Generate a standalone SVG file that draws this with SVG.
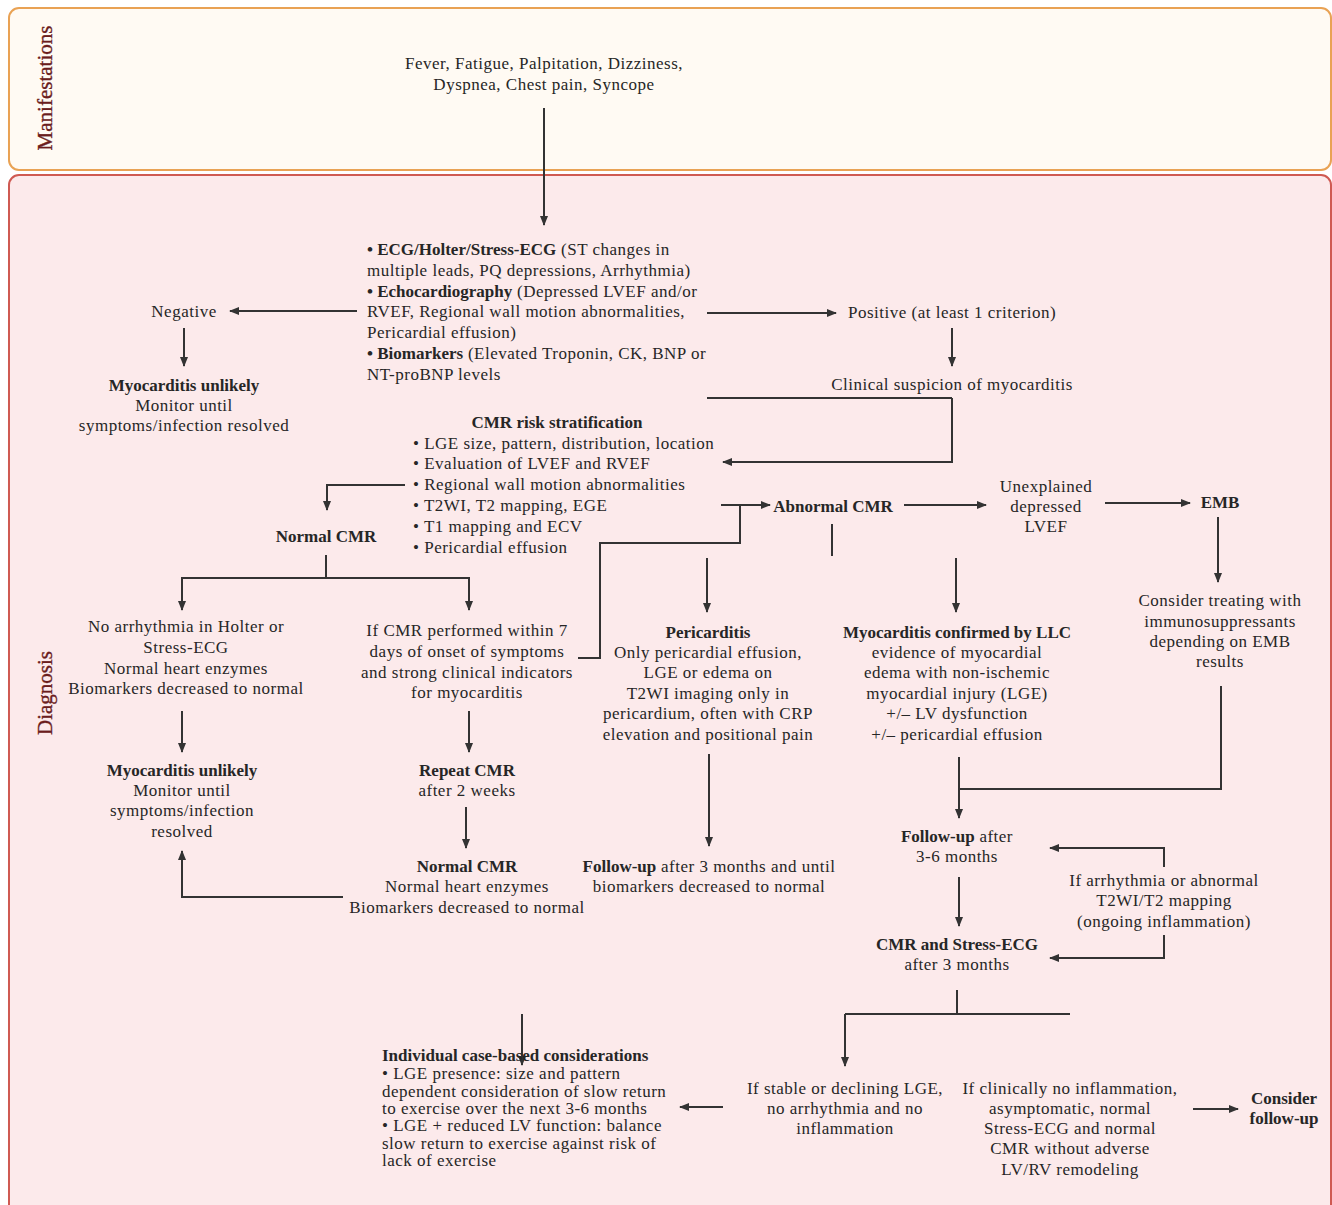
<svg xmlns="http://www.w3.org/2000/svg" width="1332" height="1205" viewBox="0 0 1332 1205">
<style>
.t{font-family:"Liberation Serif","Times New Roman",serif;font-size:17px;letter-spacing:0.5px;fill:#262626}
.c{text-anchor:middle}
.b{font-weight:bold;letter-spacing:0}
.lbl{font-family:"Liberation Serif","Times New Roman",serif;font-size:21px;fill:#6b1d1d;stroke:#6b1d1d;stroke-width:0.35;text-anchor:middle}
.ln{fill:none;stroke:#333;stroke-width:2}
.ar{fill:none;stroke:#333;stroke-width:2;marker-end:url(#ah)}
</style>
<defs>
<marker id="ah" viewBox="0 0 10 10" refX="9" refY="5" markerWidth="10" markerHeight="10" markerUnits="userSpaceOnUse" orient="auto"><path d="M0,1 L10,5 L0,9 z" fill="#333"/></marker>
</defs>
<g id="lanes">
<rect x="9" y="8" width="1322" height="162" rx="10" fill="#fffaf3" stroke="#e9a254" stroke-width="2"/>
<rect x="9" y="175" width="1322" height="1045" rx="10" fill="#fceaeb" stroke="#cf5a52" stroke-width="2"/>
<text class="lbl" transform="translate(52,88) rotate(-90)">Manifestations</text>
<text class="lbl" transform="translate(52,693) rotate(-90)">Diagnosis</text>
</g>
<g id="connectors">
<path class="ar" d="M544,108 V225"/>
<path class="ar" d="M357,311 H230"/>
<path class="ar" d="M184,328 V366"/>
<path class="ar" d="M707,313 H836"/>
<path class="ar" d="M952,328 V366"/>
<path class="ln" d="M707,398 H952"/>
<path class="ar" d="M952,398 V462 H723"/>
<path class="ar" d="M405,485 H327 V510"/>
<path class="ln" d="M326,555 V578"/>
<path class="ar" d="M326,578 H182 V610"/>
<path class="ar" d="M326,578 H469 V610"/>
<path class="ln" d="M578,658 H600 V543 H740 V505"/>
<path class="ar" d="M721,505 H770"/>
<path class="ar" d="M904,505 H986"/>
<path class="ar" d="M1105,503 H1190"/>
<path class="ln" d="M832,524 V556"/>
<path class="ar" d="M707,558 V612"/>
<path class="ar" d="M956,558 V612"/>
<path class="ar" d="M1218,517 V582"/>
<path class="ln" d="M1221,686 V789 H959"/>
<path class="ar" d="M959,757 V818"/>
<path class="ar" d="M709,754 V846"/>
<path class="ar" d="M959,877 V926"/>
<path class="ar" d="M1164,867 V848 H1050"/>
<path class="ar" d="M1164,935 V958 H1050"/>
<path class="ln" d="M957,990 V1014"/>
<path class="ln" d="M845,1014 H1070"/>
<path class="ar" d="M845,1014 V1066"/>
<path class="ar" d="M723,1107 H680"/>
<path class="ar" d="M1193,1109 H1238"/>
<path class="ar" d="M522,1014 V1065"/>
<path class="ar" d="M182,711 V752"/>
<path class="ar" d="M343,897 H182 V851"/>
<path class="ar" d="M469,711 V752"/>
<path class="ar" d="M466,807 V848"/>
</g>
<g id="n-symptoms">
<text class="t c" x="544" y="69">Fever, Fatigue, Palpitation, Dizziness,</text>
<text class="t c" x="544" y="90">Dyspnea, Chest pain, Syncope</text>
</g>
<g id="n-tests">
<text class="t" x="367" y="255"><tspan class="b">• ECG/Holter/Stress-ECG</tspan> (ST changes in</text>
<text class="t" x="367" y="276">multiple leads, PQ depressions, Arrhythmia)</text>
<text class="t" x="367" y="297"><tspan class="b">• Echocardiography</tspan> (Depressed LVEF and/or</text>
<text class="t" x="367" y="317">RVEF, Regional wall motion abnormalities,</text>
<text class="t" x="367" y="338">Pericardial effusion)</text>
<text class="t" x="367" y="359"><tspan class="b">• Biomarkers</tspan> (Elevated Troponin, CK, BNP or</text>
<text class="t" x="367" y="380">NT-proBNP levels</text>
</g>
<g id="n-negative"><text class="t c" x="184" y="317">Negative</text></g>
<g id="n-unlikely1">
<text class="t c b" x="184" y="391">Myocarditis unlikely</text>
<text class="t c" x="184" y="411">Monitor until</text>
<text class="t c" x="184" y="431">symptoms/infection resolved</text>
</g>
<g id="n-positive"><text class="t c" x="952" y="318">Positive (at least 1 criterion)</text></g>
<g id="n-suspicion"><text class="t c" x="952" y="390">Clinical suspicion of myocarditis</text></g>
<g id="n-cmr-risk">
<text class="t c b" x="557" y="428">CMR risk stratification</text>
<text class="t" x="413" y="449">• LGE size, pattern, distribution, location</text>
<text class="t" x="413" y="469">• Evaluation of LVEF and RVEF</text>
<text class="t" x="413" y="490">• Regional wall motion abnormalities</text>
<text class="t" x="413" y="511">• T2WI, T2 mapping, EGE</text>
<text class="t" x="413" y="532">• T1 mapping and ECV</text>
<text class="t" x="413" y="553">• Pericardial effusion</text>
</g>
<g id="n-normal-cmr"><text class="t c b" x="326" y="542">Normal CMR</text></g>
<g id="n-no-arrhythmia">
<text class="t c" x="186" y="632">No arrhythmia in Holter or</text>
<text class="t c" x="186" y="653">Stress-ECG</text>
<text class="t c" x="186" y="674">Normal heart enzymes</text>
<text class="t c" x="186" y="694">Biomarkers decreased to normal</text>
</g>
<g id="n-if-cmr-7">
<text class="t c" x="467" y="636">If CMR performed within 7</text>
<text class="t c" x="467" y="657">days of onset of symptoms</text>
<text class="t c" x="467" y="678">and strong clinical indicators</text>
<text class="t c" x="467" y="698">for myocarditis</text>
</g>
<g id="n-abnormal-cmr"><text class="t c b" x="833" y="512">Abnormal CMR</text></g>
<g id="n-unexplained">
<text class="t c" x="1046" y="492">Unexplained</text>
<text class="t c" x="1046" y="512">depressed</text>
<text class="t c" x="1046" y="532">LVEF</text>
</g>
<g id="n-emb"><text class="t c b" x="1220" y="508">EMB</text></g>
<g id="n-immuno">
<text class="t c" x="1220" y="606">Consider treating with</text>
<text class="t c" x="1220" y="627">immunosuppressants</text>
<text class="t c" x="1220" y="647">depending on EMB</text>
<text class="t c" x="1220" y="667">results</text>
</g>
<g id="n-pericarditis">
<text class="t c b" x="708" y="638">Pericarditis</text>
<text class="t c" x="708" y="658">Only pericardial effusion,</text>
<text class="t c" x="708" y="678">LGE or edema on</text>
<text class="t c" x="708" y="699">T2WI imaging only in</text>
<text class="t c" x="708" y="719">pericardium, often with CRP</text>
<text class="t c" x="708" y="740">elevation and positional pain</text>
</g>
<g id="n-confirmed">
<text class="t c b" x="957" y="638">Myocarditis confirmed by LLC</text>
<text class="t c" x="957" y="658">evidence of myocardial</text>
<text class="t c" x="957" y="678">edema with non-ischemic</text>
<text class="t c" x="957" y="699">myocardial injury (LGE)</text>
<text class="t c" x="957" y="719">+/– LV dysfunction</text>
<text class="t c" x="957" y="740">+/– pericardial effusion</text>
</g>
<g id="n-unlikely2">
<text class="t c b" x="182" y="776">Myocarditis unlikely</text>
<text class="t c" x="182" y="796">Monitor until</text>
<text class="t c" x="182" y="816">symptoms/infection</text>
<text class="t c" x="182" y="837">resolved</text>
</g>
<g id="n-repeat-cmr">
<text class="t c b" x="467" y="776">Repeat CMR</text>
<text class="t c" x="467" y="796">after 2 weeks</text>
</g>
<g id="n-normal-cmr2">
<text class="t c b" x="467" y="872">Normal CMR</text>
<text class="t c" x="467" y="892">Normal heart enzymes</text>
<text class="t c" x="467" y="913">Biomarkers decreased to normal</text>
</g>
<g id="n-followup-peri">
<text class="t c" x="709" y="872"><tspan class="b">Follow-up</tspan> after 3 months and until</text>
<text class="t c" x="709" y="892">biomarkers decreased to normal</text>
</g>
<g id="n-followup-36">
<text class="t c" x="957" y="842"><tspan class="b">Follow-up</tspan> after</text>
<text class="t c" x="957" y="862">3-6 months</text>
</g>
<g id="n-if-arrhythmia">
<text class="t c" x="1164" y="886">If arrhythmia or abnormal</text>
<text class="t c" x="1164" y="906">T2WI/T2 mapping</text>
<text class="t c" x="1164" y="927">(ongoing inflammation)</text>
</g>
<g id="n-cmr-stress">
<text class="t c b" x="957" y="950">CMR and Stress-ECG</text>
<text class="t c" x="957" y="970">after 3 months</text>
</g>
<g id="n-stable">
<text class="t c" x="845" y="1094">If stable or declining LGE,</text>
<text class="t c" x="845" y="1114">no arrhythmia and no</text>
<text class="t c" x="845" y="1134">inflammation</text>
</g>
<g id="n-clinically">
<text class="t c" x="1070" y="1094">If clinically no inflammation,</text>
<text class="t c" x="1070" y="1114">asymptomatic, normal</text>
<text class="t c" x="1070" y="1134">Stress-ECG and normal</text>
<text class="t c" x="1070" y="1154">CMR without adverse</text>
<text class="t c" x="1070" y="1175">LV/RV remodeling</text>
</g>
<g id="n-consider-followup">
<text class="t c b" x="1284" y="1104">Consider</text>
<text class="t c b" x="1284" y="1124">follow-up</text>
</g>
<g id="n-individual">
<text class="t b" x="382" y="1061">Individual case-based considerations</text>
<text class="t" x="382" y="1079">• LGE presence: size and pattern</text>
<text class="t" x="382" y="1097">dependent consideration of slow return</text>
<text class="t" x="382" y="1114">to exercise over the next 3-6 months</text>
<text class="t" x="382" y="1131">• LGE + reduced LV function: balance</text>
<text class="t" x="382" y="1149">slow return to exercise against risk of</text>
<text class="t" x="382" y="1166">lack of exercise</text>
</g>
</svg>
